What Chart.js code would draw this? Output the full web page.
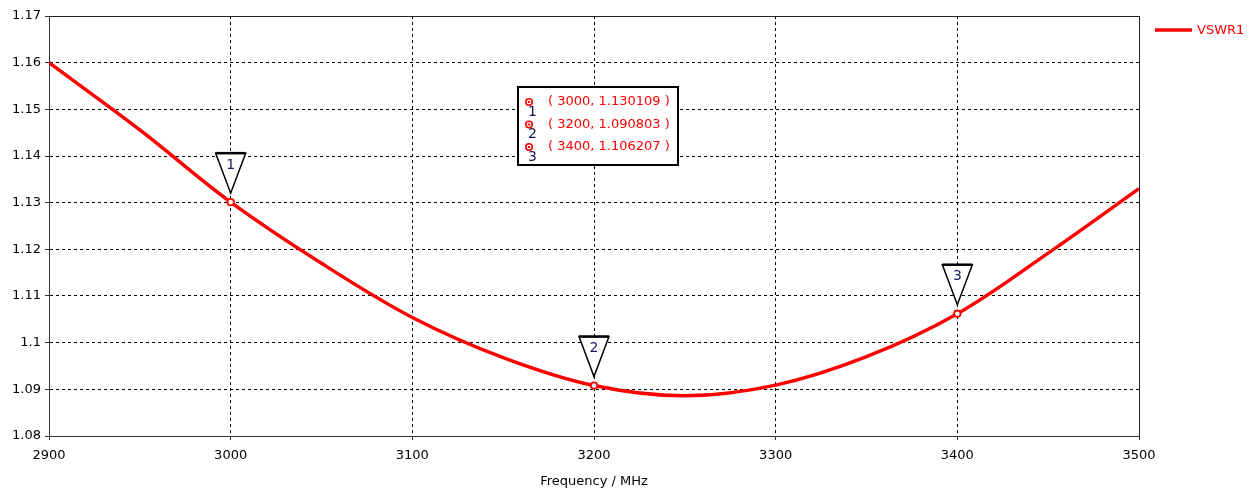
<!DOCTYPE html>
<html>
<head>
<meta charset="utf-8">
<script src="https://cdn.jsdelivr.net/npm/chart.js@4"></script>
<style>
  html, body { margin: 0; padding: 0; background: #fff; }
  #wrap { width: 1254px; height: 489px; }
</style>
</head>
<body>
<div id="wrap"><canvas id="vswrChart" width="1254" height="489"></canvas></div>
<script>
// VSWR sweep, values in MHz
const freqs = [2900, 2950, 3000, 3050, 3100, 3150, 3200, 3250, 3300, 3350, 3400, 3450, 3500];
const vswr  = [1.1600, 1.1456, 1.130109, 1.1170, 1.1054, 1.0968, 1.090803, 1.0886, 1.0909, 1.0970, 1.106207, 1.1192, 1.1330];

// Markers
const markerIds   = ['1', '2', '3'];
const markerFreqs = [3000, 3200, 3400];
const markerVals  = [1.130109, 1.090803, 1.106207];

const seriesName = 'VSWR1';
const RED = '#ff0000';
const FONT = 'Tahoma, "DejaVu Sans", sans-serif';

// Frame on top/right of plot area
const framePlugin = {
    id: 'frame',
    afterDraw(chart) {
        const { ctx, chartArea: a } = chart;
        ctx.save();
        ctx.strokeStyle = '#222';
        ctx.lineWidth = 1;
        ctx.beginPath();
        ctx.moveTo(a.left, a.top + 0.5);
        ctx.lineTo(a.right + 0.5, a.top + 0.5);
        ctx.lineTo(a.right + 0.5, a.bottom);
        ctx.stroke();
        ctx.restore();
    }
};

// Triangle flags above each marker + the marker value box + legend
const markerPlugin = {
    id: 'markers',
    afterDatasetsDraw(chart) {
        const { ctx } = chart;
        const xs = chart.scales.x, ys = chart.scales.y;
        ctx.save();

        markerFreqs.forEach((f, i) => {
            const px = xs.getPixelForValue(f);
            const py = ys.getPixelForValue(markerVals[i]);
            const top = py - 49, tip = py - 9;
            ctx.beginPath();
            ctx.moveTo(px - 15, top);
            ctx.lineTo(px + 15, top);
            ctx.lineTo(px, tip);
            ctx.closePath();
            ctx.fillStyle = '#fff';
            ctx.fill();
            ctx.lineWidth = 1.5;
            ctx.strokeStyle = '#000';
            ctx.stroke();
            ctx.beginPath();
            ctx.moveTo(px - 15, top);
            ctx.lineTo(px + 15, top);
            ctx.lineWidth = 2.5;
            ctx.stroke();
            ctx.fillStyle = '#1a1a5a';
            ctx.font = '14px ' + FONT;
            ctx.textAlign = 'center';
            ctx.textBaseline = 'middle';
            ctx.fillText(markerIds[i], px, top + 12);
        });

        // value box
        const bx = 518, by = 87, bw = 160, bh = 78;
        ctx.fillStyle = '#fff';
        ctx.fillRect(bx, by, bw, bh);
        ctx.lineWidth = 2;
        ctx.strokeStyle = '#000';
        ctx.strokeRect(bx, by, bw, bh);
        markerFreqs.forEach((f, i) => {
            const ry = by + 15 + i * 22.5;
            ctx.beginPath();
            ctx.arc(bx + 11, ry, 3.2, 0, Math.PI * 2);
            ctx.lineWidth = 1.6;
            ctx.strokeStyle = RED;
            ctx.stroke();
            ctx.fillStyle = RED;
            ctx.fillRect(bx + 10, ry - 1, 2, 2);
            ctx.font = '13px ' + FONT;
            ctx.textAlign = 'left';
            ctx.textBaseline = 'middle';
            ctx.fillText('( ' + f + ', ' + markerVals[i].toFixed(6) + ' )', bx + 30, ry);
            ctx.fillStyle = '#1a1a4a';
            ctx.font = '14px ' + FONT;
            ctx.fillText(markerIds[i], bx + 10, ry + 10);
        });

        // legend
        ctx.strokeStyle = RED;
        ctx.lineWidth = 3.5;
        ctx.beginPath();
        ctx.moveTo(1155, 30);
        ctx.lineTo(1192, 30);
        ctx.stroke();
        ctx.fillStyle = RED;
        ctx.font = '13px ' + FONT;
        ctx.textAlign = 'left';
        ctx.textBaseline = 'middle';
        ctx.fillText(seriesName, 1197, 31);

        ctx.restore();
    }
};

const ctx = document.getElementById('vswrChart').getContext('2d');
const vswrChart = new Chart(ctx, {
    type: 'line',
    data: {
        datasets: [{
            label: 'markers',
            data: markerFreqs.map((f, i) => ({ x: f, y: markerVals[i] })),
            showLine: false,
            pointRadius: 3.2,
            pointBorderWidth: 1.8,
            pointBorderColor: RED,
            pointBackgroundColor: '#fff',
            order: 0
        }, {
            label: seriesName,
            data: freqs.map((f, i) => ({ x: f, y: vswr[i] })),
            borderColor: RED,
            borderWidth: 3.5,
            pointRadius: 0,
            tension: 0.35,
            fill: false,
            order: 1
        }]
    },
    options: {
        responsive: false,
        animation: false,
        layout: { padding: { left: 0, top: 16, right: 115, bottom: 0 } },
        plugins: {
            legend: { display: false },
            tooltip: { enabled: false }
        },
        scales: {
            x: {
                type: 'linear',
                min: 2900,
                max: 3500,
                afterFit(scale) { scale.height = 53; },
                ticks: {
                    stepSize: 100,
                    color: '#000',
                    font: { family: FONT, size: 13 },
                    padding: 8,
                    maxRotation: 0,
                    callback: v => String(v)
                },
                grid: {
                    color: '#000',
                    tickBorderDash: [],
                    tickLength: 4,
                    tickColor: '#333'
                },
                border: { color: '#333', width: 1, dash: [3, 3] },
                title: {
                    display: true,
                    text: 'Frequency / MHz',
                    color: '#000',
                    font: { family: FONT, size: 13 },
                    padding: { top: 3, bottom: 0 }
                }
            },
            y: {
                min: 1.08,
                max: 1.17,
                afterFit(scale) { scale.width = 49; },
                ticks: {
                    stepSize: 0.01,
                    color: '#000',
                    font: { family: FONT, size: 13 },
                    padding: 4,
                    callback: v => String(Number(v.toFixed(2)))
                },
                grid: {
                    color: '#000',
                    tickBorderDash: [],
                    tickLength: 4,
                    tickColor: '#333'
                },
                border: { color: '#333', width: 1, dash: [3, 3] }
            }
        }
    },
    plugins: [framePlugin, markerPlugin]
});
</script>
</body>
</html>
